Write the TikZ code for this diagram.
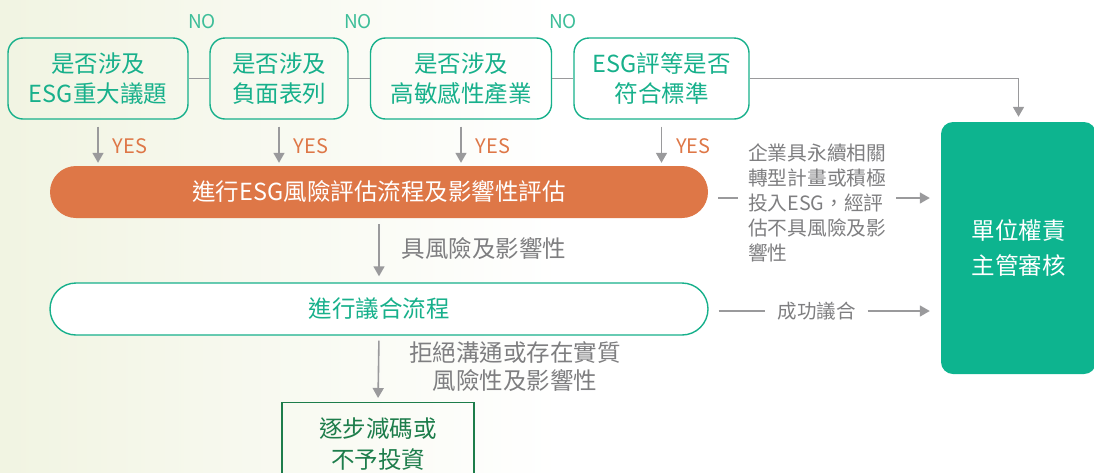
\documentclass[tikz,border=0pt]{standalone}
\usepackage{fontspec}
\setmainfont{Noto Sans CJK TC}
\usetikzlibrary{positioning,calc,arrows.meta}

\definecolor{esgteal}{HTML}{17B08B}
\definecolor{esglight}{HTML}{3DBE99}
\definecolor{esgorange}{HTML}{DE7747}
\definecolor{esgdark}{HTML}{1D7D4B}
\definecolor{esgfill}{HTML}{0DB48F}
\definecolor{esggrey}{HTML}{9A9A9C}
\definecolor{esgtext}{HTML}{7E7E80}
\definecolor{esgbg}{HTML}{F1F4E2}

\begin{document}
\begin{tikzpicture}[x=1pt,y=-1pt,
    question/.style={draw=esgteal, line width=1.4pt, rounded corners=15pt,
      minimum height=81pt, inner sep=0pt, text=esgteal, align=center,
      font=\fontsize{23.5}{30}\selectfont},
    pill/.style={rounded corners=26pt, minimum width=658pt, minimum height=52pt,
      inner sep=0pt, font=\fontsize{23.5}{25}\selectfont},
    line/.style={esggrey, line width=1.6pt},
    arr/.style={line, -{Triangle[width=11pt,length=10pt]}},
    no/.style={text=esglight, font=\fontsize{19}{20}\selectfont, inner sep=0pt},
    yes/.style={text=esgorange, font=\fontsize{20}{20}\selectfont, inner sep=0pt},
    note/.style={text=esgtext, inner sep=0pt, font=\fontsize{19.7}{25}\selectfont}]

    \useasboundingbox (0,0) rectangle (1094,472);
    % Background
    \fill[left color=esgbg, right color=white] (0,0) rectangle (560,472);

    % Screening questions
    \node[question, minimum width=180pt] (q1) at (98,78.5) {是否涉及\\ESG重大議題};
    \node[question, minimum width=138pt] (q2) at (279,78.5) {是否涉及\\負面表列};
    \node[question, minimum width=181pt] (q3) at (461,78.5) {是否涉及\\高敏感性產業};
    \node[question, minimum width=175pt] (q4) at (661.5,78.5) {ESG評等是否\\符合標準};

    \draw[line] (q1) -- (q2);
    \draw[line] (q2) -- (q3);
    \draw[line] (q3) -- (q4);
    \node[no] (no1) at (202,22) {NO};
    \node[no] (no2) at (358,22) {NO};
    \node[no] (no3) at (563,22) {NO};

    % Processes
    \node[pill, fill=esgorange, text=white] (risk) at (379,192) {進行ESG風險評估流程及影響性評估};
    \node[pill, draw=esgteal, line width=1.4pt, fill=white, text=esgteal] (agree) at (379,309) {進行議合流程};
    \node[draw=esgdark, line width=1.4pt, minimum width=192pt, minimum height=82pt,
      inner sep=0pt, text=esgdark, align=center, font=\fontsize{23.5}{31}\selectfont,
      anchor=north] (exit) at (378,402) {逐步減碼或\\不予投資};

    \foreach \q/\y in {q1/y1,q2/y2,q3/y3,q4/y4}
      \draw[arr, shorten <=7pt, shorten >=3pt] (\q.south) -- (\q.south |- risk.north)
        node[yes, pos=0.57, right=14pt] (\y) {YES};

    \draw[arr, shorten <=6pt, shorten >=6pt] (risk.south) -- (agree.north)
      node[note, pos=0.47, right=22pt, font=\fontsize{23.5}{25}\selectfont] (lab1) {具風險及影響性};
    \draw[arr, shorten <=5pt, shorten >=4pt] (agree.south) -- (exit.north)
      node[note, pos=0.47, right=30pt, align=center, font=\fontsize{23.5}{28}\selectfont] (lab2)
      {拒絕溝通或存在實質\\風險性及影響性};

    % Review
    \node[fill=esgfill, rounded corners=12pt, minimum width=155pt, minimum height=252pt,
      inner sep=0pt, text=white, align=center, font=\fontsize{23.5}{35}\selectfont]
      (review) at (1018.5,248) {單位權責\\主管審核};
    \draw[arr, shorten >=5pt] (q4.east) -| (review.north);

    % Annotations
    \node[note, anchor=west, align=left] (ann1) at (748,202.5)
      {企業具永續相關\\轉型計畫或積極\\投入ESG，經評\\估不具風險及影\\響性};
    \coordinate (a1) at (748,198);
    \draw[line, shorten <=10pt, shorten >=10pt] (risk.east |- a1) -- (a1);
    \draw[arr, shorten >=11pt] ([xshift=10pt]ann1.east |- a1) -- (review.west |- a1);

    \node[note, inner xsep=12pt, font=\fontsize{19.5}{20}\selectfont] (ok) at (816.5,311) {成功議合};
    \draw[line, shorten <=10pt] (agree.east |- ok) -- (ok.west);
    \draw[arr, shorten >=11pt] (ok.east) -- (review.west |- ok);
\end{tikzpicture}
\end{document}
